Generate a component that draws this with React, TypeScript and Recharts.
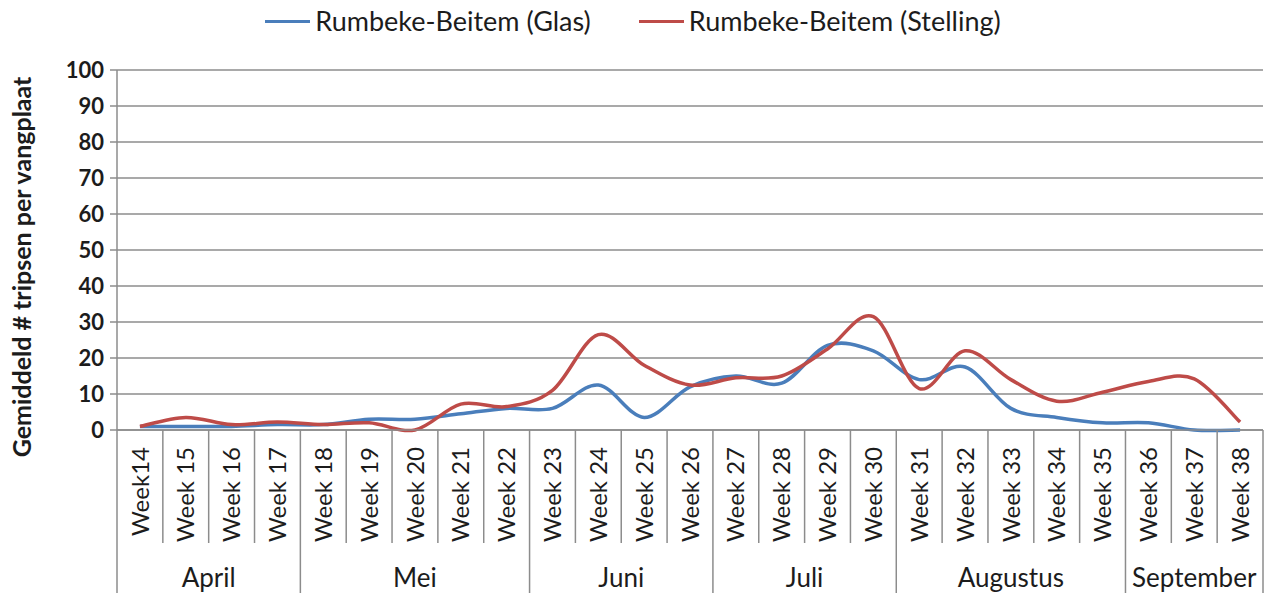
import { LineChart, Line, XAxis, YAxis, CartesianGrid } from "recharts";

const weeks = [
  "Week14", "Week 15", "Week 16", "Week 17", "Week 18", "Week 19", "Week 20",
  "Week 21", "Week 22", "Week 23", "Week 24", "Week 25", "Week 26", "Week 27",
  "Week 28", "Week 29", "Week 30", "Week 31", "Week 32", "Week 33", "Week 34",
  "Week 35", "Week 36", "Week 37", "Week 38",
];

const glas = [
  1, 1, 1, 1.5, 1.5, 3, 3, 4.5, 6, 6, 12.5, 3.5, 12, 15, 13, 23.5, 22, 14, 17.5,
  6, 3.5, 2, 2, 0, 0,
];

const stelling = [
  1, 3.5, 1.5, 2.2, 1.5, 2, 0, 7.2, 6.5, 11, 26.5, 18, 12.5, 14.5, 15, 22.5,
  31.5, 11.5, 22, 14, 8, 10.5, 13.5, 14.2, 2.2,
];

const monthNames = ["April", "Mei", "Juni", "Juli", "Augustus", "September"];
const monthWeeks = [4, 5, 4, 4, 5, 3];

const yTicks = [0, 10, 20, 30, 40, 50, 60, 70, 80, 90, 100];

const BLUE = "#4a7ebb";
const RED = "#be4b48";
const TEXT = "#1c1c1c";
const GRID = "#8c8c8c";

// each week sits in the middle of its own slot on a 0..25 scale
const data = weeks.map((week, i) => ({
  week,
  pos: i + 0.5,
  glas: glas[i],
  stelling: stelling[i],
}));
const weekTicks = data.map((d) => d.pos);

// month boundaries and centres, in week units
const bounds: number[] = [0];
monthWeeks.forEach((n) => bounds.push(bounds[bounds.length - 1] + n));
const centres = monthWeeks.map((n, i) => bounds[i] + n / 2);
const sepTicks = weeks.map((_, i) => i).concat([weeks.length]);

const WEEK_H = 113;
const MONTH_H = 54;

// Excel-like smoothed line (Catmull-Rom through the points)
function smoothCurve(context: any) {
  let pts: number[][] = [];
  return {
    areaStart() {},
    areaEnd() {},
    lineStart() {
      pts = [];
    },
    point(x: number, y: number) {
      pts.push([+x, +y]);
    },
    lineEnd() {
      if (!pts.length) return;
      context.moveTo(pts[0][0], pts[0][1]);
      for (let i = 0; i < pts.length - 1; i++) {
        const p0 = pts[i - 1] || pts[i];
        const p1 = pts[i];
        const p2 = pts[i + 1];
        const p3 = pts[i + 2] || pts[i + 1];
        context.bezierCurveTo(
          p1[0] + (p2[0] - p0[0]) / 6,
          p1[1] + (p2[1] - p0[1]) / 6,
          p2[0] - (p3[0] - p1[0]) / 6,
          p2[1] - (p3[1] - p1[1]) / 6,
          p2[0],
          p2[1]
        );
      }
    },
  };
}

function WeekTick({ x, y, index }: any) {
  const ty = y + 17;
  return (
    <text
      x={x}
      y={ty}
      transform={`rotate(-90, ${x}, ${ty})`}
      textAnchor="end"
      dy="0.36em"
      fontSize={24}
      fill={TEXT}
    >
      {weeks[index]}
    </text>
  );
}

function SepTick({ x, y, payload }: any) {
  const isMonth = bounds.includes(payload.value);
  return (
    <line
      x1={x}
      x2={x}
      y1={y - WEEK_H}
      y2={isMonth ? y + MONTH_H - 4 : y}
      stroke={GRID}
      strokeWidth={1.5}
    />
  );
}

function MonthTick({ x, y, index }: any) {
  return (
    <text x={x} y={y + 43} textAnchor="middle" fontSize={26} fill={TEXT}>
      {monthNames[index]}
    </text>
  );
}

function YLabel({ viewBox }: any) {
  const cx = viewBox.x + 22;
  const cy = viewBox.y + viewBox.height / 2 + 17;
  return (
    <text
      x={cx}
      y={cy}
      transform={`rotate(-90, ${cx}, ${cy})`}
      textAnchor="middle"
      dy="0.35em"
      fontSize={25}
      fontWeight="bold"
      fill={TEXT}
    >
      Gemiddeld # tripsen per vangplaat
    </text>
  );
}

function LegendBox() {
  const items = [
    { name: "Rumbeke-Beitem (Glas)", color: BLUE },
    { name: "Rumbeke-Beitem (Stelling)", color: RED },
  ];
  return (
    <div
      style={{
        position: "absolute",
        top: 5,
        left: 0,
        width: 1266,
        display: "flex",
        justifyContent: "center",
        gap: 48,
        fontSize: 27,
        lineHeight: "32px",
        color: TEXT,
      }}
    >
      {items.map((it) => (
        <div key={it.name} style={{ display: "flex", alignItems: "center" }}>
          <span
            style={{
              display: "inline-block",
              width: 45,
              height: 3,
              background: it.color,
              marginRight: 5,
            }}
          />
          {it.name}
        </div>
      ))}
    </div>
  );
}

export default function App() {
  return (
    <div
      style={{
        position: "absolute",
        left: 0,
        top: 0,
        width: 1266,
        height: 598,
        fontFamily: "Lato, 'Open Sans', sans-serif",
        background: "#fff",
      }}
    >
      <LegendBox />
      <LineChart
        width={1266}
        height={598}
        data={data}
        margin={{ top: 70, right: 3, bottom: 0, left: 0 }}
      >
        <CartesianGrid horizontal vertical={false} stroke={GRID} strokeWidth={1.5} />
        <XAxis
          xAxisId="c"
          dataKey="pos"
          type="number"
          domain={[0, weeks.length]}
          allowDataOverflow
          ticks={centres}
          interval={0}
          height={MONTH_H}
          tickSize={0}
          tickMargin={0}
          tickLine={false}
          axisLine={false}
          tick={<MonthTick />}
        />
        <XAxis
          xAxisId="b"
          dataKey="pos"
          type="number"
          domain={[0, weeks.length]}
          allowDataOverflow
          ticks={sepTicks}
          interval={0}
          height={1}
          tickSize={0}
          tickMargin={0}
          tickLine={false}
          axisLine={false}
          tick={<SepTick />}
        />
        <XAxis
          xAxisId="a"
          dataKey="pos"
          type="number"
          domain={[0, weeks.length]}
          allowDataOverflow
          ticks={weekTicks}
          height={WEEK_H}
          interval={0}
          tickSize={0}
          tickMargin={0}
          tickLine={false}
          tick={<WeekTick />}
          axisLine={{ stroke: GRID, strokeWidth: 1.5 }}
        />
        <YAxis
          width={117}
          domain={[0, 100]}
          ticks={yTicks}
          interval={0}
          tick={{ fontSize: 22, fontWeight: "bold", fill: TEXT }}
          tickLine={{ stroke: GRID, strokeWidth: 1.5 }}
          tickSize={7}
          tickMargin={6}
          axisLine={{ stroke: GRID, strokeWidth: 1.5 }}
          label={<YLabel />}
        />
        <Line
          xAxisId="a"
          dataKey="glas"
          type={smoothCurve as any}
          stroke={BLUE}
          strokeWidth={3.5}
          dot={false}
          isAnimationActive={false}
        />
        <Line
          xAxisId="a"
          dataKey="stelling"
          type={smoothCurve as any}
          stroke={RED}
          strokeWidth={3.5}
          dot={false}
          isAnimationActive={false}
        />
      </LineChart>
    </div>
  );
}
